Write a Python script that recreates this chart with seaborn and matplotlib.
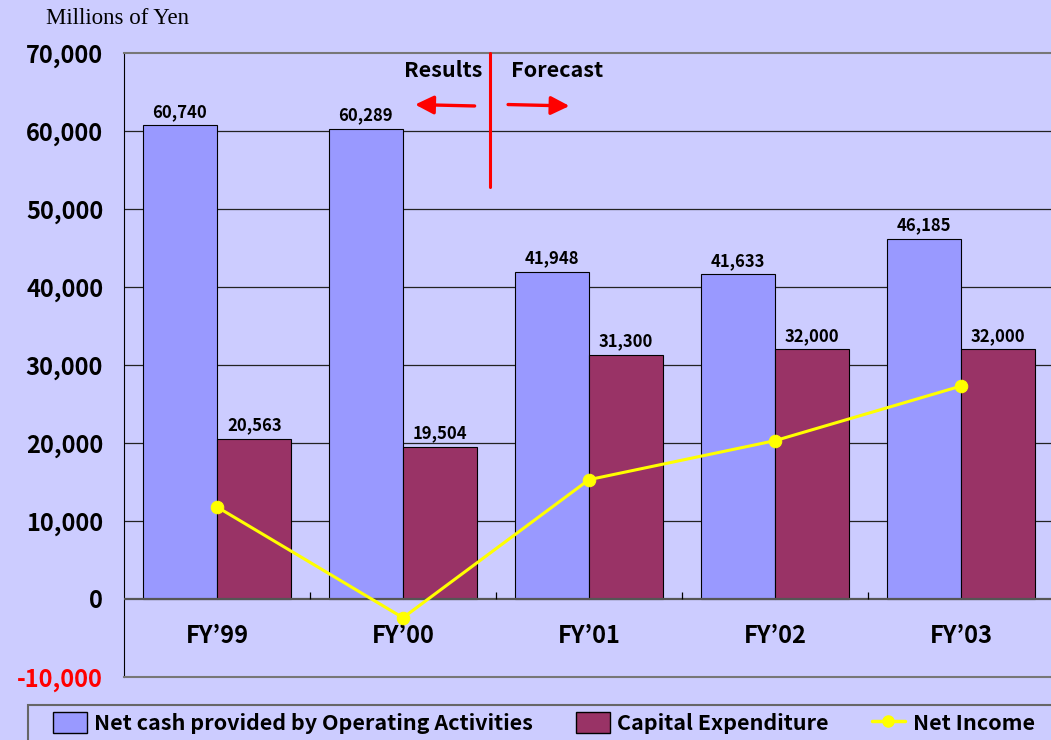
import pandas as pd
import matplotlib.pyplot as plt
import seaborn as sns
from matplotlib.patches import Patch, Rectangle
from matplotlib.lines import Line2D

# values, millions of yen
years = ["FY\u201999", "FY\u201900", "FY\u201901", "FY\u201902", "FY\u201903"]
operating_cf = [60740, 60289, 41948, 41633, 46185]
capex = [20563, 19504, 31300, 32000, 32000]
net_income = [11800, -2400, 15300, 20300, 27300]
y_ticks = [-10000, 0, 10000, 20000, 30000, 40000, 50000, 60000, 70000]

BG = "#CCCCFF"
BLUE = "#9999FF"
RED = "#993366"
YEL = "#FFFF00"

sns.set_style("white", {"axes.facecolor": BG, "figure.facecolor": BG,
                        "text.color": "black", "ytick.color": "black"})
plt.rcParams["font.family"] = ["Noto Sans CJK JP", "DejaVu Sans"]
plt.rcParams["text.color"] = "black"

df = pd.DataFrame({
    "year": years * 2,
    "value": operating_cf + capex,
    "series": ["Net cash provided by Operating Activities"] * 5 + ["Capital Expenditure"] * 5,
})

fig = plt.figure(figsize=(10.51, 7.40), dpi=100)
ax = fig.add_axes([124 / 1051, 1 - 677 / 740, 930 / 1051, 624 / 740])

sns.barplot(data=df, x="year", y="value", hue="series", palette=[BLUE, RED],
            saturation=1, width=0.8, edgecolor="black", linewidth=0.8,
            legend=False, ax=ax, zorder=2)
for c in ax.containers:
    ax.bar_label(c, labels=[f"{v:,.0f}" for v in c.datavalues], padding=3,
                 fontsize=12, fontweight="bold", color="black")

sns.lineplot(x=list(range(5)), y=net_income, color=YEL, linewidth=2.2, marker="o",
             markersize=9, markeredgecolor=YEL, ax=ax, zorder=4)

ax.set_xlim(-0.5, 4.5)
ax.set_ylim(-10000, 70000)
ax.set_yticks(y_ticks)
ax.set_yticklabels([f"{t:,}" for t in y_ticks], fontsize=17, fontweight="bold",
                   color="black")
ax.get_yticklabels()[0].set_color("red")
ax.tick_params(axis="y", direction="in", length=7, color="black", pad=15)
ax.set_xticks([])
ax.set_xlabel("")
ax.set_ylabel("")

ax.set_axisbelow(True)
for t in y_ticks[2:-1]:
    ax.axhline(t, color="#222222", lw=0.9, zorder=0)
ax.axhline(0, color="#555555", lw=1.6, zorder=3)
ax.vlines([0.5, 1.5, 2.5, 3.5], 0, 900, color="black", lw=0.9, zorder=3)
for s in ["top", "bottom"]:
    ax.spines[s].set_color("#777777")
    ax.spines[s].set_linewidth(1.5)
ax.spines["left"].set_color("black")
ax.spines["right"].set_visible(False)

for i, lab in enumerate(years):
    ax.text(i, -4700, lab, ha="center", va="center", fontsize=17,
            fontweight="bold", color="black")

# results / forecast divider
ax.plot([1.468, 1.468], [52800, 70000], color="red", lw=2.2, zorder=5, clip_on=False)
ax.annotate("", xy=(1.05, 63400), xytext=(1.40, 63200),
            arrowprops=dict(arrowstyle="-|>", color="red", lw=2.4, mutation_scale=28))
ax.annotate("", xy=(1.91, 63200), xytext=(1.55, 63400),
            arrowprops=dict(arrowstyle="-|>", color="red", lw=2.4, mutation_scale=28))
ax.text(1.005, 67700, "Results", fontsize=15.5, fontweight="bold", va="center")
ax.text(1.58, 67700, "Forecast", fontsize=15.5, fontweight="bold", va="center")

fig.text(46 / 1051, 1 - 18 / 740, "Millions of Yen", family="Liberation Serif",
         fontsize=16.5, va="center")

# legend box
fig.patches.append(Rectangle((28 / 1051, -0.05), 1.0, 0.05 + 35 / 740,
                             transform=fig.transFigure, facecolor="none",
                             edgecolor="#666666", lw=1.5))
handles = [Patch(facecolor=BLUE, edgecolor="black"),
           Patch(facecolor=RED, edgecolor="black"),
           Line2D([], [], color=YEL, lw=2.5, marker="o", markersize=8)]
labels = ["Net cash provided by Operating Activities", "Capital Expenditure", "Net Income"]
fig.legend(handles, labels, loc="center left", bbox_to_anchor=(34 / 1051, 1 - 723 / 740),
           ncol=3, frameon=False, prop={"weight": "bold", "size": 15.5},
           handlelength=1.55, handleheight=1.1, handletextpad=0.35, columnspacing=2.0)

fig.savefig("out.png", dpi=100, facecolor=BG)
